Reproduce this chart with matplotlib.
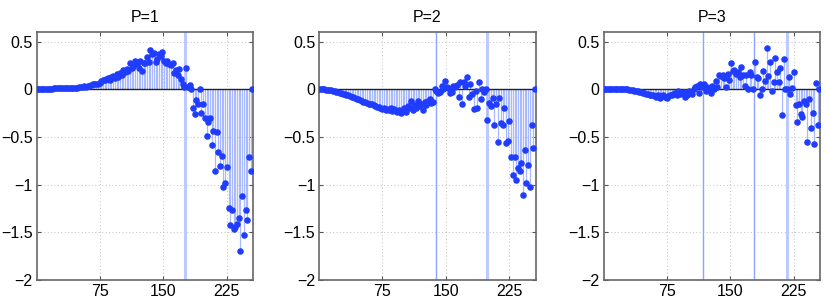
import numpy as np
import matplotlib
matplotlib.use("Agg")
import matplotlib.pyplot as plt

plt.rcParams['font.family'] = ['Liberation Sans', 'DejaVu Sans']

titles = ["P=1", "P=2", "P=3"]
x_idx = list(range(1, 256, 2))  # 128 coefficient positions

vals_p1 = [
    0, 0.002, 0.003, 0.004, 0.005, 0.005, 0.006, 0.006, 0.007, 0.007,
    0.008, 0.008, 0.009, 0.01, 0.01, 0.011, 0.012, 0.012, 0.013, 0.014,
    0.015, 0.014, 0.016, 0.018, 0.012, 0.02, 0.022, 0.025, 0.03, 0.028,
    0.03, 0.035, 0.04, 0.05, 0.05, 0.055, 0.06, 0.07, 0.09, 0.1,
    0.1, 0.11, 0.12, 0.1, 0.13, 0.14, 0.12, 0.16, 0.13, 0.17,
    0.15, 0.2, 0.18, 0.21, 0.19, 0.28, 0.22, 0.24, 0.3, 0.26,
    0.22, 0.3, 0.19, 0.27, 0.28, 0.34, 0.29, 0.41, 0.37, 0.38,
    0.29, 0.32, 0.37, 0.35, 0.39, 0.3, 0.28, 0.3, 0.26, 0.25,
    0.27, 0.17, 0.2, 0.15, 0.21, 0.11, 0.06, 0.02, 0.22, 0.02,
    0.04, 0.0, -0.2, -0.26, -0.11, -0.16, 0.0, -0.25, -0.15, -0.3,
    -0.49, -0.34, -0.3, -0.58, -0.44, -0.86, -0.45, -0.66, -0.8, -0.7,
    -1.02, -0.98, -0.82, -1.24, -1.42, -1.27, -1.47, -1.44, -1.41, -1.35,
    -1.7, -1.12, -1.53, -1.27, -1.37, -0.71, -0.86, 0.0,
]

vals_p2 = [
    0, 0, 0, -0.002, -0.004, -0.006, -0.008, -0.01, -0.015, -0.02,
    -0.025, -0.03, -0.035, -0.04, -0.045, -0.05, -0.06, -0.065, -0.07, -0.08,
    -0.085, -0.09, -0.1, -0.105, -0.11, -0.12, -0.13, -0.135, -0.14, -0.15,
    -0.155, -0.16, -0.17, -0.18, -0.185, -0.19, -0.2, -0.21, -0.2, -0.22,
    -0.21, -0.22, -0.2, -0.23, -0.21, -0.23, -0.24, -0.22, -0.25, -0.23,
    -0.2, -0.24, -0.18, -0.2, -0.12, -0.22, -0.17, -0.2, -0.12, -0.18,
    -0.15, -0.22, -0.13, -0.17, -0.12, -0.1, -0.14, -0.13, 0.0, -0.02,
    -0.04, -0.03, 0.03, 0.0, 0.09, 0.02, 0.01, -0.04, -0.03, 0.03,
    0.02, 0.04, -0.08, 0.08, -0.16, 0.08, 0.03, 0.13, -0.08, 0.05,
    -0.05, -0.21, -0.02, -0.2, 0.08, -0.1, 0.0, -0.03, 0.0, -0.32,
    -0.14, -0.18, -0.09, -0.37, -0.16, -0.55, -0.09, -0.35, -0.38, -0.2,
    -0.56, -0.54, -0.33, -0.71, -0.9, -0.71, -0.95, -0.83, -0.86, -0.77,
    -1.11, -0.64, -0.98, -0.79, -1.03, -0.38, -0.62, 0.0,
]

vals_p3 = [
    0, 0.002, 0.003, 0.004, 0.005, 0.005, 0.005, 0.005, 0.004, 0.004,
    0.004, 0.003, 0.003, 0.002, 0.0, -0.003, -0.006, -0.01, -0.014, -0.018,
    -0.022, -0.027, -0.032, -0.037, -0.042, -0.047, -0.052, -0.057, -0.06, -0.065,
    -0.07, -0.08, -0.06, -0.09, -0.075, -0.065, -0.08, -0.09, -0.07, -0.06,
    -0.065, -0.05, -0.04, -0.06, -0.02, -0.05, -0.04, -0.03, -0.08, -0.06,
    -0.02, -0.04, -0.05, 0.0, 0.02, 0.03, -0.04, 0.05, 0.02, 0.05,
    -0.02, 0.02, 0.0, -0.04, 0.03, 0.0, 0.09, 0.02, 0.15, 0.14,
    0.15, 0.12, 0.02, 0.16, 0.1, 0.27, 0.19, 0.2, 0.16, 0.18,
    0.13, 0.23, 0.15, 0.03, 0.15, 0.0, 0.18, 0.15, 0.0, 0.29,
    0.13, 0.12, -0.06, 0.0, 0.19, 0.09, 0.43, 0.14, 0.29, -0.02,
    0.08, 0.33, 0.18, 0.08, 0.22, -0.27, 0.32, 0.0, 0.0, 0.13,
    -0.05, 0.01, 0.18, -0.17, -0.34, -0.15, -0.26, -0.29, -0.12, -0.16,
    -0.55, -0.1, -0.41, -0.25, -0.57, 0.07, -0.37, 0.0,
]

series = [vals_p1, vals_p2, vals_p3]

# segment boundaries per panel: (position, strong?)
boundaries = [
    [(176, False)],
    [(138, True), (198, False)],
    [(118, True), (178, True), (217, False)],
]

xticks = [75, 150, 225]
yticks = [-2, -1.5, -1, -0.5, 0, 0.5]
ytick_labels = ["\u22122", "\u22121.5", "\u22121", "\u22120.5", "0", "0.5"]

W, H = 830, 308
fig = plt.figure(figsize=(W / 100, H / 100), dpi=100)
lefts = [36.7, 319.3, 603.7]
ax_w, top, bottom = 216.5, 32, 280

marker_color = "#1f3cff"
stem_color = "#a9b9ff"

for k in range(3):
    ax = fig.add_axes([lefts[k] / W, 1 - bottom / H, ax_w / W, (bottom - top) / H])
    for pos, strong in boundaries[k]:
        if strong:
            ax.axvline(pos, color="#8da3ff", lw=1.0, zorder=1)
        else:
            ax.axvline(pos, color="#bccaff", lw=2.2, zorder=1)
    ml, sl, bl = ax.stem(x_idx, series[k], basefmt=" ")
    plt.setp(sl, color=stem_color, linewidth=0.9, zorder=2)
    plt.setp(ml, color=marker_color, markersize=3.7, zorder=3)
    ax.axhline(0, color="#222222", lw=1.0, zorder=2.5)
    ax.set_xlim(1, 256)
    ax.set_ylim(-2, 0.6)
    ax.set_xticks(xticks)
    ax.set_xticklabels([str(t) for t in xticks])
    ax.set_yticks(yticks)
    ax.set_yticklabels(ytick_labels)
    ax.grid(True, linestyle=(0, (1, 2.5)), color="#c0c0c0", linewidth=0.7)
    ax.set_axisbelow(True)
    ax.tick_params(direction="in", length=3, width=0.8, labelsize=11.5,
                   top=True, right=True, colors="#555555", labelcolor="black", pad=3)
    for s in ax.spines.values():
        s.set_color("#666666")
        s.set_linewidth(1.2)
    ax.set_title(titles[k], fontsize=11.5, pad=7)

fig.savefig("out.png", dpi=100)
